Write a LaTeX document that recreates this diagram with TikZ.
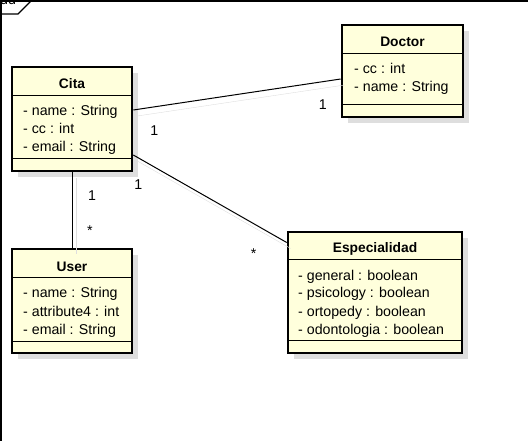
\documentclass[tikz,border=0pt]{standalone}
\usepackage{fontspec}
\setmainfont{Liberation Sans}
\usetikzlibrary{shadows}

\definecolor{classfill}{RGB}{255,255,220}
\definecolor{shadowgray}{RGB}{222,222,222}

\tikzset{
  classbox/.style={draw=black, line width=2.6pt, fill=classfill, inner sep=0pt,
    drop shadow={shadow xshift=6pt, shadow yshift=-6pt, fill=shadowgray, opacity=1}},
  classname/.style={anchor=base, inner sep=0pt, font=\fontsize{13.8}{16}\selectfont\bfseries},
  attr/.style={anchor=base west, inner sep=0pt, font=\fontsize{14.2}{16}\selectfont},
  sepline/.style={line width=0.9pt},
  assoc/.style={line width=1pt,
    preaction={draw=shadowgray, transform canvas={shift={(4pt,-6pt)}}}},
  mult/.style={inner sep=0pt, font=\fontsize{14.2}{16}\selectfont},
}

\begin{document}
\begin{tikzpicture}[x=1pt, y=-1pt]
    \clip (0,0) rectangle (528,441);

    % Package frame
    \node[attr] (frame-name) at (0,5) {dd};
    \draw[line width=2pt] (1,441) -- (1,1) -- (528,1);
    \draw[line width=1.2pt] (1,14) -- (18,14) -- (31,1);

    % Cita
    \node[classbox, minimum width=120pt, minimum height=104pt] (cita) at (72,119) {};
    \node[classname] (cita-title) at (72,89) {Cita};
    \draw[sepline] (12,95) -- (132,95) (12,158) -- (132,158);
    \foreach \a [count=\i] in {- name : String, - cc : int, - email : String}
        \node[attr] (cita-\i) at (23,98+18*\i) {\a};

    % Doctor
    \node[classbox, minimum width=121pt, minimum height=92pt] (doctor) at (402.5,71) {};
    \node[classname] (doctor-title) at (402.5,47) {Doctor};
    \draw[sepline] (342,53) -- (463,53) (342,104) -- (463,104);
    \foreach \a [count=\i] in {- cc : int, - name : String}
        \node[attr] (doctor-\i) at (354,56+18*\i) {\a};

    % User
    \node[classbox, minimum width=120pt, minimum height=104pt] (user) at (72,301) {};
    \node[classname] (user-title) at (72,271) {User};
    \draw[sepline] (12,277) -- (132,277) (12,341) -- (132,341);
    \foreach \a [count=\i] in {- name : String, - attribute4 : int, - email : String}
        \node[attr] (user-\i) at (23,280+18*\i) {\a};

    % Especialidad
    \node[classbox, minimum width=174pt, minimum height=121pt] (especialidad) at (375,292.5) {};
    \node[classname] (especialidad-title) at (375,253) {Especialidad};
    \draw[sepline] (288,259) -- (462,259) (288,340) -- (462,340);
    \foreach \a [count=\i] in {- general : boolean, - psicology : boolean, - ortopedy : boolean, - odontologia : boolean}
        \node[attr] (especialidad-\i) at (298,262+18*\i) {\a};

    % Associations
    \draw[assoc] ([yshift=9pt]cita.east) -- ([yshift=-8pt]doctor.west)
        node[mult, at start, xshift=21pt, yshift=-21pt] (cita-doctor-1) {1}
        node[mult, at end, xshift=-18pt, yshift=-26pt] (cita-doctor-2) {1};
    \draw[assoc] (cita.south) -- (user.north)
        node[mult, at start, xshift=20pt, yshift=-23pt] (cita-user-1) {1}
        node[mult, at end, xshift=18pt, yshift=17pt] (cita-user-2) {*};
    \draw[assoc] ([yshift=-36pt]cita.east) -- ([yshift=50pt]especialidad.west)
        node[mult, at start, xshift=5pt, yshift=-30pt] (cita-esp-1) {1}
        node[mult, at end, xshift=-33pt, yshift=-11pt] (cita-esp-2) {*};
\end{tikzpicture}
\end{document}
